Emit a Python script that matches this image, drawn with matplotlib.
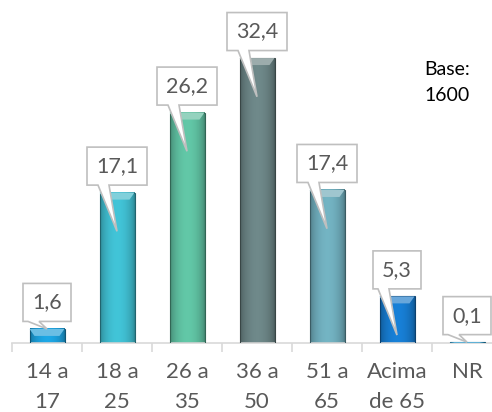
import numpy as np
import matplotlib
matplotlib.use("Agg")
import matplotlib.pyplot as plt
from matplotlib.patches import Polygon, Rectangle
from matplotlib.colors import to_rgb

categories = ["14 a\n17", "18 a\n25", "26 a\n35", "36 a\n50", "51 a\n65", "Acima\nde 65", "NR"]
values = [1.6, 17.1, 26.2, 32.4, 17.4, 5.3, 0.1]
value_labels = ["1,6", "17,1", "26,2", "32,4", "17,4", "5,3", "0,1"]
colors = ["#1b9bd5", "#3db6c8", "#5bb99b", "#677f80", "#6ba7b5", "#1677c8", "#1b9bd5"]
base_text = "Base:\n1600"

plt.rcParams['font.family'] = ['Lato', 'DejaVu Sans']
fig = plt.figure(figsize=(4.92, 4.12), dpi=100)
ax = fig.add_axes([12/492, 69/412, 490/492, 343/412])
x = np.arange(len(values))
w = 0.5

for xi, v, c in zip(x, values, colors):
    rgb = np.array(to_rgb(c))
    t = np.linspace(0, 1, 60)
    prof = 0.72 + 0.36 * np.sin(np.pi * t) ** 0.6
    grad = np.clip(rgb[None, :] * prof[:, None], 0, 1)[None, :, :]
    ax.imshow(grad, extent=(xi - w/2, xi + w/2, 0, v), aspect='auto',
              zorder=2, interpolation='bilinear')
    ax.add_patch(Rectangle((xi - w/2, 0), w, v, fill=False,
                           edgecolor=rgb * 0.55, lw=0.8, zorder=3))

ax.set_xlim(-0.5, len(values) - 0.5)
ax.set_ylim(0, 39)
fig.canvas.draw()

for xi, v, c, lab in zip(x, values, colors, value_labels):
    rgb = np.array(to_rgb(c))
    X0, Y0 = ax.transData.transform((xi, v))
    XL, _ = ax.transData.transform((xi - w/2, v))
    XR, _ = ax.transData.transform((xi + w/2, v))
    _, YB = ax.transData.transform((xi, 0))
    bh = min(7, Y0 - YB)
    inset = 5
    bev = [(XL, Y0), (XR, Y0), (XR - inset, Y0 - bh), (XL + inset, Y0 - bh)]
    bev = ax.transData.inverted().transform(bev)
    light = rgb + (1 - rgb) * 0.35
    ax.add_patch(Polygon(bev, closed=True, facecolor=light, edgecolor='none', zorder=3))

    box_w = 12 * len(lab) + 12
    box_h = 38
    gap = 7.5
    bottom = Y0 + gap
    top = bottom + box_h
    left = X0 - box_w / 2
    right = X0 + box_w / 2
    tip_v = v - 4.4 if v > 4.4 else v
    TX, TY = ax.transData.transform((xi, tip_v))
    pts = [(left, bottom), (X0 - 19, bottom), (TX, TY), (X0 - 8, bottom),
           (right, bottom), (right, top), (left, top)]
    pts = ax.transData.inverted().transform(pts)
    ax.add_patch(Polygon(pts, closed=True, facecolor='white', edgecolor='#bfbfbf',
                         lw=1.2, zorder=4, clip_on=False))
    cx, cy = ax.transData.inverted().transform(((left + right) / 2, (bottom + top) / 2))
    ax.text(cx, cy, lab, ha='center', va='center', fontsize=15.5, color='#595959',
            zorder=5, clip_on=False)

ax.set_xticks(x)
ax.set_xticklabels(categories, fontsize=16, color='#595959', linespacing=1.6)
ax.set_xticks(np.arange(len(values) + 1) - 0.5, minor=True)
ax.tick_params(axis='x', which='major', length=0, pad=14)
ax.tick_params(axis='x', which='minor', length=6.5, color='#d9d9d9', width=1.2)
ax.set_yticks([])
for s in ['left', 'right', 'top']:
    ax.spines[s].set_visible(False)
ax.spines['bottom'].set_color('#d9d9d9')
ax.spines['bottom'].set_linewidth(1.2)
ax.patch.set_alpha(0)

fig.text(424/492, 1 - 61/412, base_text, ha='left', va='top', fontsize=14,
         color='black', linespacing=1.62)

fig.savefig("out.png", dpi=100)
